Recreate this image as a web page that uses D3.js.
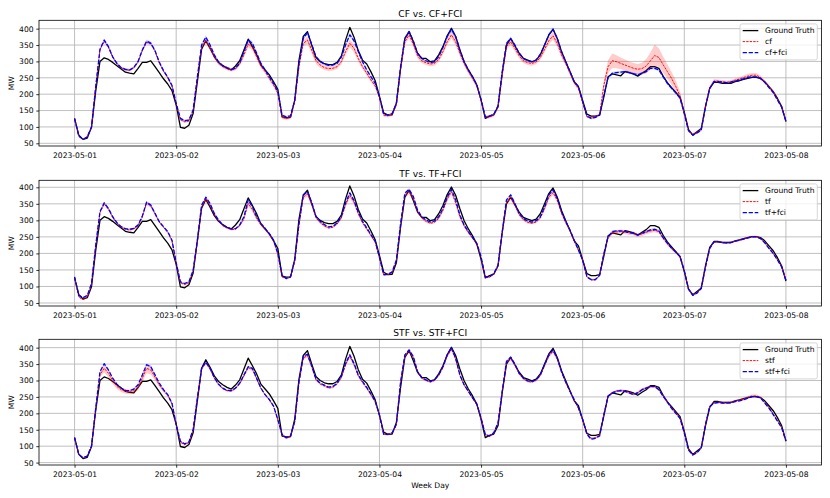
<!DOCTYPE html>
<html><head><meta charset="utf-8">
<script src="https://cdn.jsdelivr.net/npm/d3@7/dist/d3.min.js"></script>
<style>body{margin:0;background:#fff}svg{display:block}text{font-family:"DejaVu Sans",sans-serif;fill:#000}</style>
</head><body><svg id="c" width="830" height="498"></svg>
<script>
// ---------------- DATA (hourly, 2023-05-01 00:00 .. 2023-05-08 00:00) ----------------
const dayLabels = ["2023-05-01","2023-05-02","2023-05-03","2023-05-04","2023-05-05","2023-05-06","2023-05-07","2023-05-08"];
const yTicks = [50,100,150,200,250,300,350,400];
const titles = ["CF vs. CF+FCI","TF vs. TF+FCI","STF vs. STF+FCI"];
const legendLabels = [["Ground Truth","cf","cf+fci"],["Ground Truth","tf","tf+fci"],["Ground Truth","stf","stf+fci"]];

const groundTruth = [
126,75,62,66,99,210,300,311,306,297,287,277,267,264,262,279,297,297,302,284,266,247,231,211,
167,99,96,105,141,238,337,363,340,314,297,287,279,274,286,302,335,368,345,320,289,274,259,238,
215,131,128,129,182,304,376,391,350,312,300,293,290,290,297,316,365,404,374,333,304,292,268,241,
194,143,136,137,172,280,370,391,360,325,309,309,299,302,320,345,378,401,376,335,299,274,253,228,
182,126,133,137,162,264,350,370,347,325,309,304,299,304,320,350,381,398,370,330,299,269,238,223,
180,139,133,133,136,192,253,262,259,256,269,266,262,255,264,272,284,284,279,255,235,220,205,190,
145,92,75,85,95,162,218,236,236,233,233,233,238,241,245,248,251,251,248,238,223,208,187,162,
116];

const cf = [
125,72,62,70,100,223,335,362,343,313,293,280,275,273,280,298,333,358,354,331,296,270,250,225,
170,122,116,118,148,248,343,363,340,314,294,284,278,274,277,292,320,353,343,314,286,269,248,228,
203,129,126,129,177,284,355,365,335,303,289,281,278,279,284,299,330,355,340,309,284,264,243,225,
190,136,134,138,167,274,360,381,353,317,302,296,292,294,306,330,360,381,360,325,294,269,248,225,
182,129,131,136,160,258,345,360,340,317,302,296,294,298,312,337,363,378,355,320,294,264,235,218,
174,131,129,131,138,228,284,302,299,294,289,284,279,276,278,286,302,318,312,290,269,248,223,194,
142,90,77,84,92,164,220,240,240,238,236,238,243,246,251,255,258,258,251,238,223,208,184,162,
118];
const cfBand = [
2,2,2,2,2,3,4,4,4,4,4,4,4,4,4,4,4,4,4,4,4,4,4,4,
4,4,4,4,4,5,6,7,7,6,5,5,5,5,5,6,7,9,9,8,7,6,6,6,
6,5,5,5,5,7,9,11,11,10,8,7,7,7,7,8,10,12,12,10,8,7,6,6,
5,5,5,5,5,7,9,10,9,8,7,7,7,7,8,9,10,11,10,9,7,6,6,6,
5,5,5,5,5,7,9,10,9,8,7,7,7,7,8,9,11,12,11,9,7,6,6,6,
5,4,4,4,4,12,20,22,20,18,17,16,16,16,18,21,25,34,28,25,22,20,18,14,
6,4,4,4,4,5,6,6,5,5,5,5,5,6,6,7,7,7,6,5,5,5,5,4,
3];
const cfFci = [
125,72,62,70,100,223,337,365,345,314,294,281,276,274,282,300,335,362,356,333,298,272,252,227,
172,126,119,121,152,253,350,374,350,320,299,287,281,276,279,296,330,365,355,325,294,274,253,233,
208,136,131,134,182,294,370,388,352,315,300,292,288,289,294,313,350,381,363,330,299,274,253,233,
192,139,136,141,172,284,370,391,363,325,309,302,297,299,315,343,376,398,376,335,299,274,253,228,
184,131,133,139,164,269,355,370,350,325,309,302,299,304,322,350,381,398,370,330,299,269,238,223,
177,133,126,129,136,197,251,264,266,267,269,266,262,259,264,269,279,279,274,253,233,218,204,188,
140,88,75,82,90,162,218,238,238,236,235,237,240,243,247,251,253,253,248,236,220,205,182,160,
118];
const cfFciBand = [
2,2,2,2,2,3,4,5,5,4,4,3,3,3,3,4,4,5,5,4,4,3,3,3,
3,3,3,3,3,4,5,6,5,4,4,3,3,3,3,4,5,6,6,5,4,4,3,3,
3,3,3,3,3,4,5,6,5,4,4,3,3,3,3,4,5,6,6,5,4,4,3,3,
3,3,3,3,3,4,5,6,5,4,4,3,3,3,3,4,5,8,6,5,4,4,3,3,
3,3,3,3,3,4,5,6,5,4,4,3,3,3,3,4,5,6,6,5,4,4,3,3,
3,3,3,3,3,4,4,4,4,4,4,4,4,4,4,4,4,4,4,4,4,4,4,4,
3,3,3,3,3,3,3,3,3,3,3,3,3,3,3,3,3,3,3,3,3,3,3,3,
3];

const tf = [
128,68,60,68,104,222,324,350,334,309,291,279,273,271,274,284,310,352,344,320,295,279,264,238,
170,111,106,111,146,236,340,365,346,318,299,284,277,272,273,284,305,351,333,306,287,273,257,238,
198,129,124,128,177,285,370,380,350,308,293,283,277,279,289,307,347,375,355,320,293,273,254,234,
186,135,136,142,177,285,375,387,366,327,307,297,291,294,306,330,364,387,353,311,283,263,246,228,
188,128,128,138,162,262,353,370,346,317,302,294,291,295,307,335,370,384,361,322,293,269,238,209,
179,128,120,120,133,198,248,263,265,266,265,262,260,255,259,264,268,270,266,246,229,214,202,189,
147,92,74,81,94,159,215,234,235,233,232,233,237,240,244,248,251,251,246,233,216,200,181,160,
120];
const tfBand = [
2,2,2,2,2,3,4,5,5,4,4,3,3,3,3,4,5,6,6,5,4,3,3,3,
3,3,3,3,3,4,5,7,6,5,4,4,3,3,3,4,6,8,7,6,5,4,4,4,
4,3,3,3,3,5,7,8,7,5,4,4,3,3,4,5,7,8,7,6,5,4,4,4,
3,3,3,3,3,5,7,8,7,5,4,4,3,3,4,5,7,8,7,6,5,4,4,4,
3,3,3,3,3,5,7,8,7,5,4,4,3,3,4,5,7,8,7,6,5,4,4,4,
3,3,3,3,3,4,5,6,6,6,6,6,6,6,6,6,6,6,6,5,5,4,4,4,
3,3,3,3,3,3,3,3,3,3,3,3,3,3,3,3,3,3,3,3,3,3,3,3,
3];
const tfFci = [
129,73,66,73,109,225,326,353,336,311,293,281,275,273,276,286,313,355,346,321,296,281,266,240,
172,114,109,114,149,240,346,370,351,321,301,286,279,274,275,286,311,362,341,311,291,276,260,240,
200,134,124,129,180,291,377,387,355,312,297,287,280,282,292,312,353,383,360,325,297,277,257,237,
188,136,137,144,180,291,382,394,372,331,311,301,295,298,311,336,370,394,362,316,286,266,248,230,
190,129,129,139,164,266,362,377,351,321,306,298,295,299,311,341,377,392,367,326,296,271,240,210,
180,129,121,121,134,200,250,266,268,268,266,263,261,256,261,266,271,273,268,248,231,216,204,191,
148,92,73,80,94,159,215,235,235,233,232,233,237,240,243,247,250,250,245,232,215,200,180,159,
119];
const tfFciBand = [
2,2,2,2,2,2,3,3,3,3,2,2,2,2,2,3,3,3,3,3,2,2,2,2,
2,2,2,2,2,3,3,4,3,3,2,2,2,2,2,3,3,4,3,3,2,2,2,2,
2,2,2,2,2,3,3,4,3,3,2,2,2,2,2,3,3,4,3,3,2,2,2,2,
2,2,2,2,2,3,3,4,3,3,2,2,2,2,2,3,3,4,3,3,2,2,2,2,
2,2,2,2,2,3,3,4,3,3,2,2,2,2,2,3,3,4,3,3,2,2,2,2,
2,2,2,2,2,3,3,3,3,3,3,3,3,3,3,3,3,3,3,3,3,3,3,3,
2,2,2,2,2,2,2,2,2,2,2,2,2,2,2,2,2,2,2,2,2,2,2,2,
2];

const stf = [
126,74,64,70,100,212,318,337,322,299,282,272,267,265,269,279,307,337,332,310,287,269,255,229,
165,112,105,111,149,244,335,354,335,307,287,275,269,268,275,290,314,339,334,305,276,256,241,221,
180,134,124,129,174,293,368,376,342,302,289,283,277,279,289,309,348,374,348,314,294,276,256,235,
195,137,135,140,165,293,374,390,370,325,307,300,295,300,315,340,374,396,365,315,286,266,246,227,
185,135,130,140,169,264,354,367,347,320,305,297,295,300,315,345,374,389,365,325,294,266,241,216,
182,138,124,126,133,196,252,263,268,270,268,264,259,263,272,277,281,281,272,254,236,217,202,186,
141,89,74,81,96,166,221,232,234,233,233,234,238,240,244,249,253,253,249,233,218,198,178,158,
117];
const stfBand = [
2,2,2,2,3,5,8,12,12,9,8,7,7,7,8,9,13,15,14,9,7,5,4,4,
3,3,3,3,3,4,4,5,4,4,3,3,3,3,3,4,4,5,5,4,3,3,3,3,
3,3,3,3,3,4,5,6,5,4,3,3,3,3,3,4,5,6,5,4,3,3,3,3,
3,3,3,3,3,4,5,6,5,4,3,3,3,3,3,4,5,6,5,4,3,3,3,3,
3,3,3,3,3,4,5,6,5,4,3,3,3,3,3,4,5,6,5,4,3,3,3,3,
3,3,3,3,3,3,4,4,4,4,4,4,4,4,4,4,4,4,4,4,4,4,4,4,
3,3,3,3,3,3,3,3,3,3,3,3,3,3,4,4,4,4,4,3,3,3,3,3,
3];
const stfFci = [
126,75,65,70,100,216,327,351,332,307,289,277,270,269,274,287,317,348,342,317,292,272,257,231,
166,115,107,113,151,247,337,356,337,309,289,277,270,269,277,292,317,342,337,307,277,257,242,222,
181,136,126,131,176,297,373,380,345,305,292,286,280,282,292,312,352,378,352,317,297,279,259,237,
196,136,136,141,166,297,378,393,373,327,309,302,297,302,317,342,378,400,368,317,287,267,247,228,
186,136,131,141,171,267,358,371,350,322,307,299,297,302,317,348,378,393,368,327,295,267,242,216,
181,136,121,124,131,196,252,262,267,269,267,262,257,262,272,277,282,282,272,252,234,215,200,184,
140,88,73,80,95,166,221,231,233,231,231,232,236,238,241,246,251,251,247,231,216,196,176,156,
115];
const stfFciBand = [
2,2,2,2,2,2,3,3,3,3,2,2,2,2,2,3,3,3,3,3,2,2,2,2,
2,2,2,2,2,3,3,4,3,3,2,2,2,2,2,3,3,4,3,3,2,2,2,2,
2,2,2,2,2,3,3,4,3,3,2,2,2,2,2,3,3,4,3,3,2,2,2,2,
2,2,2,2,2,3,3,4,3,3,2,2,2,2,2,3,3,6,3,3,2,2,2,2,
2,2,2,2,2,3,3,4,3,3,2,2,2,2,2,3,3,4,3,3,2,2,2,2,
2,2,2,2,2,3,3,3,3,3,3,3,3,3,3,3,3,3,3,3,3,3,3,3,
2,2,2,2,2,2,2,2,2,2,2,2,2,2,2,2,2,2,2,2,2,2,2,2,
2];

const panelSeries = [
  {base: cf,  baseBand: cfBand,  fci: cfFci,  fciBand: cfFciBand},
  {base: tf,  baseBand: tfBand,  fci: tfFci,  fciBand: tfFciBand},
  {base: stf, baseBand: stfBand, fci: stfFci, fciBand: stfFciBand}
];

// ---------------- LAYOUT ----------------
const svg = d3.select("#c");
const left = 39, right = 821.5;
const panelTop = [20.3, 180.3, 339.3], panelH = 125.7;
const yLims = [[41.8,425.5],[40.9,421.2],[42.7,425.4]];
const t0 = Date.UTC(2023,4,1), DAY = 864e5;
const times = d3.range(groundTruth.length).map(i => new Date(t0 + i*3600e3));
const tickDates = dayLabels.map(s => new Date(s + "T00:00:00Z"));
const x = d3.scaleUtc().domain([new Date(t0 - 0.35*DAY), new Date(t0 + 7.35*DAY)]).range([left, right]);

const FS = 7.6;
const RED = "#ff0000", BLUE = "#0000ff";
const styles = {
  gt:  {stroke:"#000", w:1.3, dash:null},
  base:{stroke:RED, w:0.95, dash:"2.4,1.1"},
  fci: {stroke:BLUE, w:1.3, dash:"4.2,1.8"}
};

panelSeries.forEach((s, i) => {
  const top = panelTop[i], bottom = top + panelH;
  const y = d3.scaleLinear().domain(yLims[i]).range([bottom, top]);
  const g = svg.append("g");
  const clipId = "clip" + i;
  svg.append("defs").append("clipPath").attr("id", clipId)
    .append("rect").attr("x", left).attr("y", top).attr("width", right-left).attr("height", panelH);

  // grid
  g.append("g").selectAll("line").data(tickDates).join("line")
    .attr("x1", d => x(d)).attr("x2", d => x(d)).attr("y1", top).attr("y2", bottom)
    .attr("stroke", "#b0b0b0").attr("stroke-width", 0.8);
  g.append("g").selectAll("line").data(yTicks).join("line")
    .attr("x1", left).attr("x2", right).attr("y1", d => y(d)).attr("y2", d => y(d))
    .attr("stroke", "#b0b0b0").attr("stroke-width", 0.8);

  const plot = g.append("g").attr("clip-path", `url(#${clipId})`);
  const line = vals => d3.line().x((d,j) => x(times[j])).y(d => y(d))(vals);
  const area = (vals, band) => d3.area().x((d,j) => x(times[j]))
      .y0((d,j) => y(vals[j] - band[j])).y1((d,j) => y(vals[j] + band[j]))(vals);
  const drawLine = (vals, st) => {
    const p = plot.append("path").attr("d", line(vals)).attr("fill", "none")
      .attr("stroke", st.stroke).attr("stroke-width", st.w).attr("stroke-linejoin","round");
    if (st.dash) p.attr("stroke-dasharray", st.dash);
  };

  drawLine(groundTruth, styles.gt);
  plot.append("path").attr("d", area(s.base, s.baseBand)).attr("fill", RED).attr("fill-opacity", 0.2);
  drawLine(s.base, styles.base);
  plot.append("path").attr("d", area(s.fci, s.fciBand)).attr("fill", BLUE).attr("fill-opacity", 0.2);
  drawLine(s.fci, styles.fci);

  // axes
  const xa = g.append("g").attr("transform", `translate(0,${bottom})`)
    .call(d3.axisBottom(x).tickValues(tickDates).tickFormat((d,k) => dayLabels[k]).tickSize(2.7).tickPadding(3.6));
  const ya = g.append("g").attr("transform", `translate(${left},0)`)
    .call(d3.axisLeft(y).tickValues(yTicks).tickSize(2.7).tickPadding(2.7));
  [xa, ya].forEach(a => {
    a.select(".domain").remove();
    a.selectAll("line").attr("stroke", "#000").attr("stroke-width", 0.8);
    a.selectAll("text").attr("font-size", FS).attr("font-family", "DejaVu Sans").attr("fill", "#000");
  });

  // frame
  g.append("rect").attr("x", left).attr("y", top).attr("width", right-left).attr("height", panelH)
    .attr("fill", "none").attr("stroke", "#000").attr("stroke-width", 0.8);

  // title
  g.append("text").attr("x", (left+right)/2).attr("y", top - 3.8).attr("text-anchor", "middle")
    .attr("font-size", 9.1).text(titles[i]);

  // y label
  g.append("text").attr("transform", `translate(11.7,${top + panelH/2}) rotate(-90)`)
    .attr("text-anchor", "middle").attr("dy", "0.35em").attr("font-size", FS).text("MW");

  // legend
  const lx = 740, ly = top + 3.6;
  const lg = g.append("g");
  lg.append("rect").attr("x", lx).attr("y", ly).attr("width", 77.3).attr("height", 36).attr("rx", 2)
    .attr("fill", "#fff").attr("fill-opacity", 0.8).attr("stroke", "#cccccc").attr("stroke-width", 0.8);
  const legStyles = [styles.gt, styles.base, styles.fci];
  legendLabels[i].forEach((lab, k) => {
    const ry = ly + 6.7 + k*11;
    const st = legStyles[k];
    const l = lg.append("line").attr("x1", lx + 2.7).attr("x2", lx + 18.3).attr("y1", ry).attr("y2", ry)
      .attr("stroke", st.stroke).attr("stroke-width", st.w);
    if (st.dash) l.attr("stroke-dasharray", st.dash);
    lg.append("text").attr("x", lx + 25).attr("y", ry).attr("dy", "0.35em").attr("font-size", FS).text(lab);
  });
});

svg.append("text").attr("x", (left+right)/2).attr("y", 488).attr("text-anchor", "middle")
  .attr("font-size", FS).text("Week Day");
</script>
</body></html>
